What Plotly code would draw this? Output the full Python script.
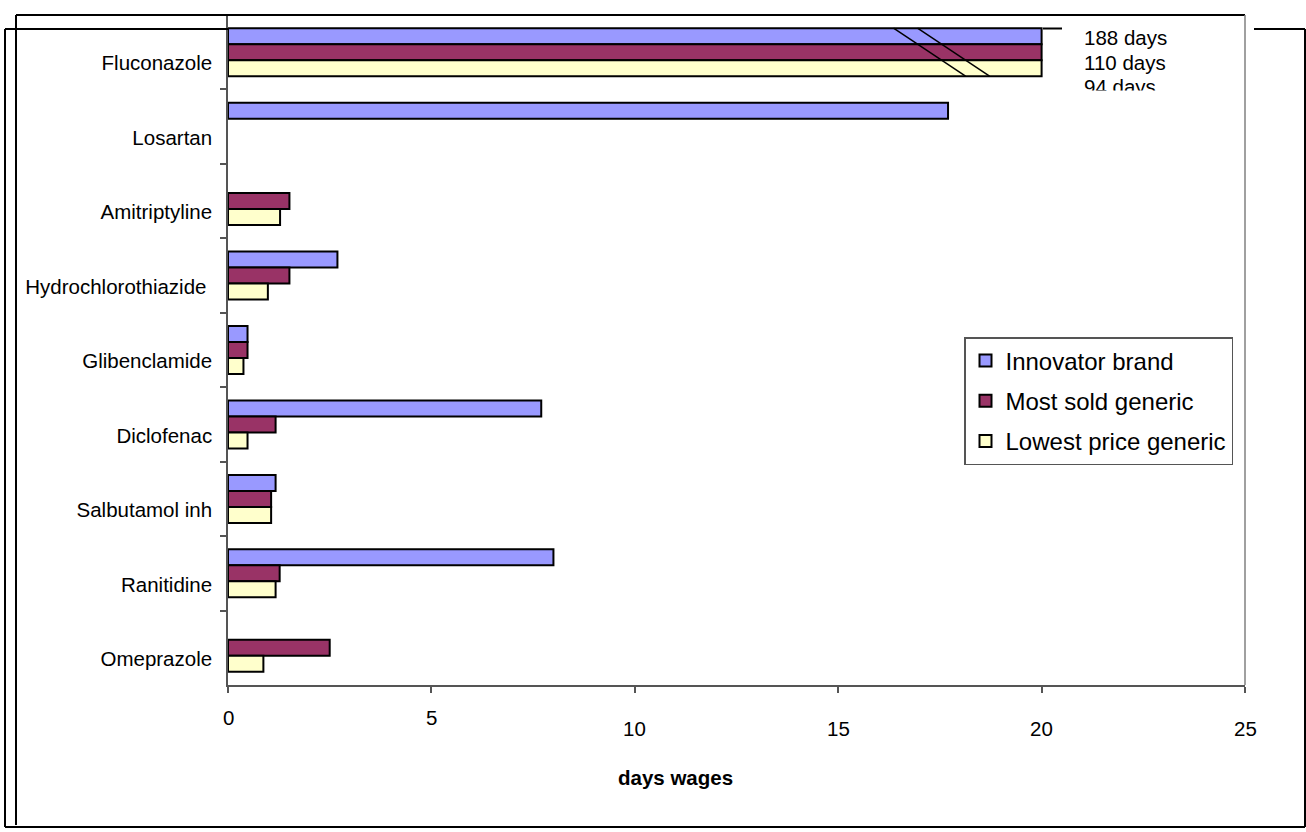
import plotly.graph_objects as go

categories = ["Fluconazole", "Losartan", "Amitriptyline", "Hydrochlorothiazide ",
              "Glibenclamide", "Diclofenac", "Salbutamol inh", "Ranitidine", "Omeprazole"]
innovator = [20, 17.7, None, 2.69, 0.48, 7.7, 1.17, 8.0, None]
most_sold = [20, None, 1.51, 1.51, 0.48, 1.17, 1.06, 1.27, 2.5]
lowest = [20, None, 1.28, 0.98, 0.38, 0.48, 1.06, 1.17, 0.87]
fluconazole_days = ["188 days", "110 days", "94 days"]
x_ticks = [0, 5, 10, 15, 20, 25]

FONT = "Arial, Liberation Sans, sans-serif"
W, H = 1306, 832
L, R, T, B = 228, 1245, 15, 685

def px(xp):
    return (xp - L) / (R - L)

def py(yp):
    return (B - yp) / (B - T)

fig = go.Figure()
series = [("Innovator brand", innovator, "#9999FF"),
          ("Most sold generic", most_sold, "#993366"),
          ("Lowest price generic", lowest, "#FFFFCC")]
for i, (name, vals, col) in enumerate(series):
    fig.add_trace(go.Bar(y=categories, x=vals, orientation="h", name=name, legendgroup=f"g{i}",
                         marker=dict(color=col, line=dict(color="black", width=2))))

shapes = []
# outer frame
blk = dict(color="black", width=2)
for (x0, y0, x1, y1) in [(5, 29, 5, 827), (5, 827, 1305, 827), (1305, 29, 1305, 827),
                         (5, 29, L, 29), (1254, 29, 1305, 29), (1043, 28.5, 1062, 28.5),
                         (16, 15, 16, 825), (16, 15, R, 15)]:
    shapes.append(dict(type="line", xref="paper", yref="paper",
                       x0=px(x0), y0=py(y0), x1=px(x1), y1=py(y1), line=blk, layer="above"))
# plot right border
shapes.append(dict(type="line", xref="paper", yref="paper", x0=1, y0=0, x1=1, y1=1,
                   line=dict(color="#808080", width=1.5)))
# axis break marks on Fluconazole bars
for xa, xb in [(16.36, 18.13), (16.95, 18.72)]:
    shapes.append(dict(type="line", xref="x", yref="y", x0=xa, y0=-0.3226, x1=xb, y1=0.3226,
                       line=dict(color="black", width=1.5), layer="above"))

annotations = []
for t, yc in zip(fluconazole_days, [38, 62, 86]):
    annotations.append(dict(text=t, xref="paper", yref="paper", x=px(1082), y=py(yc),
                            xanchor="left", yanchor="middle", showarrow=False,
                            font=dict(family=FONT, size=20.5, color="black")))
# white mask clipping the last label
annotations.append(dict(text=" ", xref="paper", yref="paper", x=px(1075), y=py(90),
                        xanchor="left", yanchor="top", showarrow=False, width=110, height=9,
                        bgcolor="white", borderpad=0, font=dict(size=4)))
for v in x_ticks:
    yc = 717 if v < 10 else 728
    annotations.append(dict(text=str(v), xref="x", yref="paper", x=v, y=py(yc),
                            xanchor="center", yanchor="middle", showarrow=False,
                            font=dict(family=FONT, size=20.5, color="black")))
annotations.append(dict(text="<b>days wages</b>", xref="paper", yref="paper", x=px(675), y=py(777),
                        xanchor="center", yanchor="middle", showarrow=False,
                        font=dict(family=FONT, size=20.5, color="black")))

fig.update_layout(
    width=W, height=H, margin=dict(l=L, r=W - R, t=T, b=H - B, pad=0),
    paper_bgcolor="white", plot_bgcolor="white",
    barmode="group", bargap=0.355, bargroupgap=0,
    font=dict(family=FONT, size=20.5, color="black"),
    shapes=shapes, annotations=annotations,
    legend=dict(x=px(964), y=py(337), xanchor="left", yanchor="top",
                bgcolor="white", bordercolor="#555555", borderwidth=1.5,
                font=dict(family=FONT, size=24, color="black"),
                traceorder="grouped", itemsizing="constant", tracegroupgap=6),
    showlegend=True,
)
fig.update_xaxes(range=[0, 25], tickvals=x_ticks, showticklabels=False, ticks="outside",
                 ticklen=6, tickcolor="#555555", tickwidth=1.5, showgrid=False, zeroline=False,
                 showline=True, linecolor="#555555", linewidth=1.5)
fig.update_yaxes(categoryorder="array", categoryarray=categories, autorange="reversed",
                 ticks="outside", tickson="boundaries", ticklen=6, tickcolor="#555555",
                 tickwidth=1.5, showgrid=False, showline=True, linecolor="#555555", linewidth=1.5,
                 ticklabelstandoff=10, ticklabelshift=-11,
                 tickfont=dict(family=FONT, size=20.5, color="black"))

fig.write_html("out.html")
